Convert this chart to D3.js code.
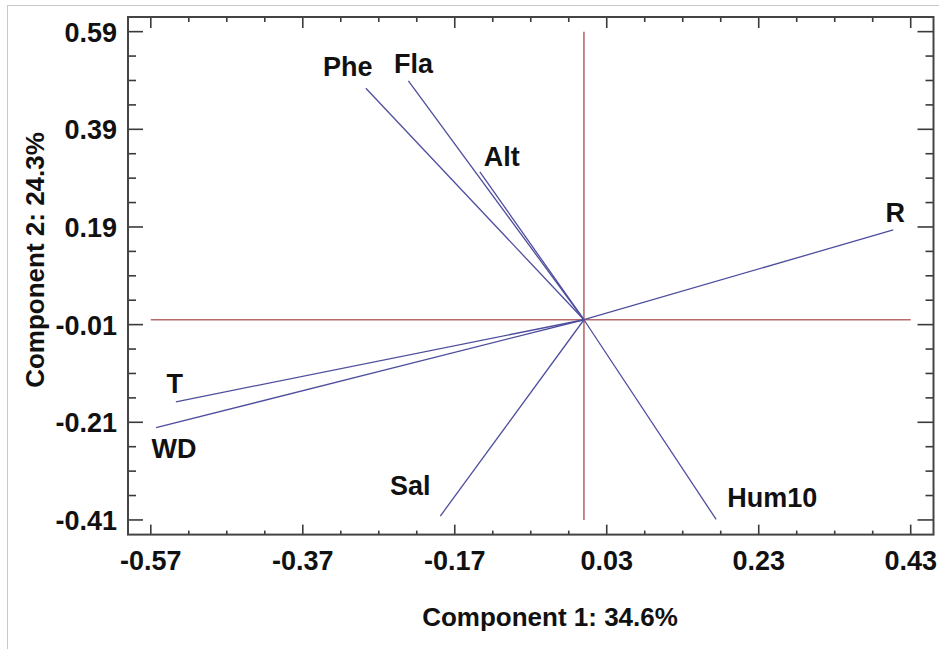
<!DOCTYPE html>
<html>
<head>
<meta charset="utf-8">
<script src="https://cdn.jsdelivr.net/npm/d3@7"></script>
<style>
  body { margin: 0; background: #fff; }
  text { font-family: "Liberation Sans", Arial, sans-serif; font-weight: bold; fill: #111; }
</style>
</head>
<body>
<script>
// loadings
var variables = ["Phe", "Fla", "Alt", "R", "T", "WD", "Sal", "Hum10"];
var comp1 = [-0.287, -0.231, -0.137, 0.407, -0.537, -0.563, -0.189, 0.174];
var comp2 = [0.474, 0.489, 0.303, 0.184, -0.168, -0.221, -0.402, -0.409];

var xTicks = [-0.57, -0.37, -0.17, 0.03, 0.23, 0.43];
var yTicks = [-0.41, -0.21, -0.01, 0.19, 0.39, 0.59];

// label nudges in px relative to the arrow tip (dx, baseline dy)
var labelNudge = {
  Phe: [-18, -12], Fla: [5, -8], Alt: [22, -6], R: [2, -8],
  T: [-1, -9], WD: [18, 30], Sal: [-30, -21], Hum10: [56, -12]
};

var width = 939, height = 649;

var svg = d3.select("body").append("svg")
    .attr("width", width)
    .attr("height", height);

// outer light border
svg.append("rect")
    .attr("x", 7.5).attr("y", 5.5)
    .attr("width", width).attr("height", height)
    .attr("fill", "none")
    .attr("stroke", "#c8c8c8");

var x = d3.scaleLinear().domain([-0.60, 0.46]).range([128, 933.5]);
var y = d3.scaleLinear().domain([-0.44, 0.62]).range([534.6, 17]);

var minorX = d3.range(0, 21).map(function(i) { return -0.57 + i * 0.05; });
var minorY = d3.range(0, 21).map(function(i) { return -0.41 + i * 0.05; });

function isMajor(v) {
  return Math.abs(((v + 0.57 + 10) / 0.2) % 1) < 1e-6 || Math.abs(((v + 0.57 + 10) / 0.2) % 1 - 1) < 1e-6;
}
function isMajorY(v) {
  var r = ((v + 0.41 + 10) / 0.2) % 1;
  return Math.abs(r) < 1e-6 || Math.abs(r - 1) < 1e-6;
}

var tickCol = "#3a3a3a";
var ticks = svg.append("g").attr("stroke", tickCol).attr("stroke-width", 1.6);

// bottom + top ticks
minorX.forEach(function(v) {
  var m = isMajor(v);
  ticks.append("line").attr("x1", x(v)).attr("x2", x(v))
    .attr("y1", y.range()[0]).attr("y2", y.range()[0] - (m ? 10 : 4));
  ticks.append("line").attr("x1", x(v)).attr("x2", x(v))
    .attr("y1", y.range()[1]).attr("y2", y.range()[1] + (m ? 11 : 5));
});
// left + right ticks
minorY.forEach(function(v) {
  var m = isMajorY(v);
  ticks.append("line").attr("y1", y(v)).attr("y2", y(v))
    .attr("x1", x.range()[0]).attr("x2", x.range()[0] + (m ? 15 : 8));
  ticks.append("line").attr("y1", y(v)).attr("y2", y(v))
    .attr("x1", x.range()[1]).attr("x2", x.range()[1] - (m ? 16 : 8));
});

// frame
svg.append("rect")
    .attr("x", x.range()[0]).attr("y", y.range()[1])
    .attr("width", x.range()[1] - x.range()[0])
    .attr("height", y.range()[0] - y.range()[1])
    .attr("fill", "none")
    .attr("stroke", "#444")
    .attr("stroke-width", 2);

// tick labels
svg.selectAll(".xl").data(xTicks).enter().append("text")
    .attr("x", function(d) { return x(d); })
    .attr("y", 570)
    .attr("text-anchor", "middle")
    .attr("font-size", 27)
    .text(function(d) { return d.toFixed(2); });

svg.selectAll(".yl").data(yTicks).enter().append("text")
    .attr("x", 117)
    .attr("y", function(d) { return y(d) + 10; })
    .attr("text-anchor", "end")
    .attr("font-size", 27)
    .text(function(d) { return d.toFixed(2); });

// reference lines through the origin
var red = "#b96a6a";
svg.append("line")
    .attr("x1", x(-0.57)).attr("x2", x(0.43))
    .attr("y1", y(0)).attr("y2", y(0))
    .attr("stroke", red).attr("stroke-width", 1.6);
svg.append("line")
    .attr("x1", x(0)).attr("x2", x(0))
    .attr("y1", y(0.59)).attr("y2", y(-0.41))
    .attr("stroke", red).attr("stroke-width", 1.6);

// vectors
var data = variables.map(function(v, i) { return { name: v, c1: comp1[i], c2: comp2[i] }; });

svg.selectAll(".vec").data(data).enter().append("line")
    .attr("x1", x(0)).attr("y1", y(0))
    .attr("x2", function(d) { return x(d.c1); })
    .attr("y2", function(d) { return y(d.c2); })
    .attr("stroke", "#4e4e9e")
    .attr("stroke-width", 1.3);

svg.selectAll(".lab").data(data).enter().append("text")
    .attr("x", function(d) { return x(d.c1) + labelNudge[d.name][0]; })
    .attr("y", function(d) { return y(d.c2) + labelNudge[d.name][1]; })
    .attr("text-anchor", "middle")
    .attr("font-size", 27)
    .text(function(d) { return d.name; });

// axis titles
svg.append("text")
    .attr("x", 550).attr("y", 626)
    .attr("text-anchor", "middle")
    .attr("font-size", 26)
    .text("Component 1: 34.6%");

svg.append("text")
    .attr("transform", "translate(44,260) rotate(-90)")
    .attr("text-anchor", "middle")
    .attr("font-size", 26)
    .text("Component 2: 24.3%");
</script>
</body>
</html>
